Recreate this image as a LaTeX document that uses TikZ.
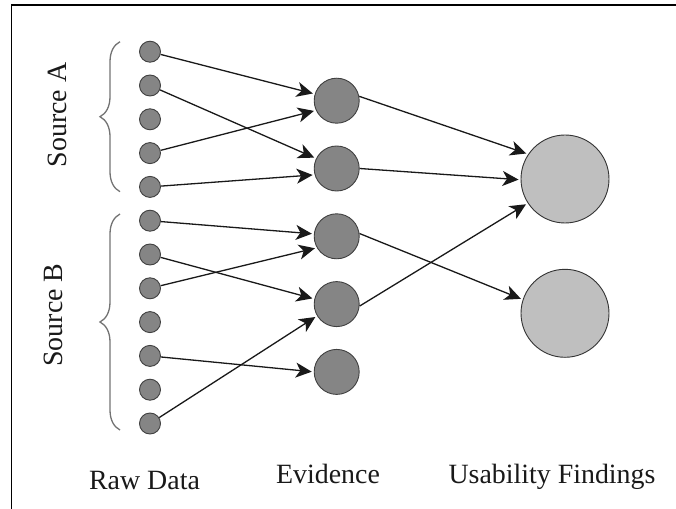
\documentclass[tikz,border=0pt]{standalone}
\usepackage{fontspec}
\setmainfont{Liberation Serif}
\usetikzlibrary{arrows.meta,decorations.pathreplacing}

\begin{document}
\begin{tikzpicture}[x=1bp,y=-1bp,
  raw/.style={circle,draw=black!75,fill=black!48,line width=0.9bp,minimum size=21bp,inner sep=0pt},
  evid/.style={circle,draw=black!75,fill=black!48,line width=0.9bp,minimum size=45bp,inner sep=0pt},
  finding/.style={circle,draw=black!80,fill=black!25,line width=0.9bp,minimum size=88bp,inner sep=0pt},
  tipshape/.tip={Stealth[length=16bp,width=15bp,inset=4.5bp]},
  link/.style={draw=black!90,line width=1.3bp,-tipshape,shorten >=2bp},
  brc/.style={draw=black!55,line width=1.3bp,decorate,decoration={brace,amplitude=20bp}},
  lbl/.style={font=\fontsize{28}{33}\selectfont,text=black!90,inner sep=0pt}]

  \useasboundingbox (0,0) rectangle (676,509);

  % frame lines
  \draw[line width=2bp] (11,5) -- (676,5);
  \draw[line width=1.3bp] (11.5,4) -- (11.5,509);

  % raw data points
  \foreach \i in {0,...,11}
    \node[raw] (r\i) at (150,{51.7+33.8*\i}) {};

  % evidence
  \foreach \i in {0,...,4}
    \node[evid] (e\i) at (336.7,{100.7+67.8*\i}) {};

  % usability findings
  \node[finding] (f0) at (565,179) {};
  \node[finding] (f1) at (565,313.3) {};

  % raw data -> evidence
  \draw[link] (r0) -- (e0.163);
  \draw[link] (r1) -- (e1.154);
  \draw[link] (r3) -- (e0.205);
  \draw[link] (r4) -- (e1.196);
  \draw[link] (r5) -- (e2.174);
  \draw[link] (r6) -- (e3.167);
  \draw[link] (r7) -- (e2.210);
  \draw[link] (r9) -- (e4.180);
  \draw[link] (r11) -- (e3.211);

  % evidence -> findings
  \draw[link] (e0.11) -- (f0.146);
  \draw[link] (e1.0) -- (f0.181);
  \draw[link] (e2.7) -- (f1.162);
  \draw[link] (e3.-5) -- (f0.213);

  % source braces
  \coordinate (braTop) at (120,41.7);
  \coordinate (braBot) at (120,191.7);
  \coordinate (brbTop) at (120,214);
  \coordinate (brbBot) at (120,430);
  \draw[brc] (braBot) -- (braTop);
  \draw[brc] (brbBot) -- (brbTop);

  % labels
  \node[lbl,rotate=90] (srcA) at (57,115) {Source A};
  \node[lbl,rotate=90] (srcB) at (53,315) {Source B};
  \node[lbl,anchor=base] (rawlbl) at (144.5,489.3) {Raw Data};
  \node[lbl,anchor=base] (evlbl) at (328,483) {Evidence};
  \node[lbl,anchor=base] (uflbl) at (552,483.3) {Usability Findings};
\end{tikzpicture}
\end{document}
